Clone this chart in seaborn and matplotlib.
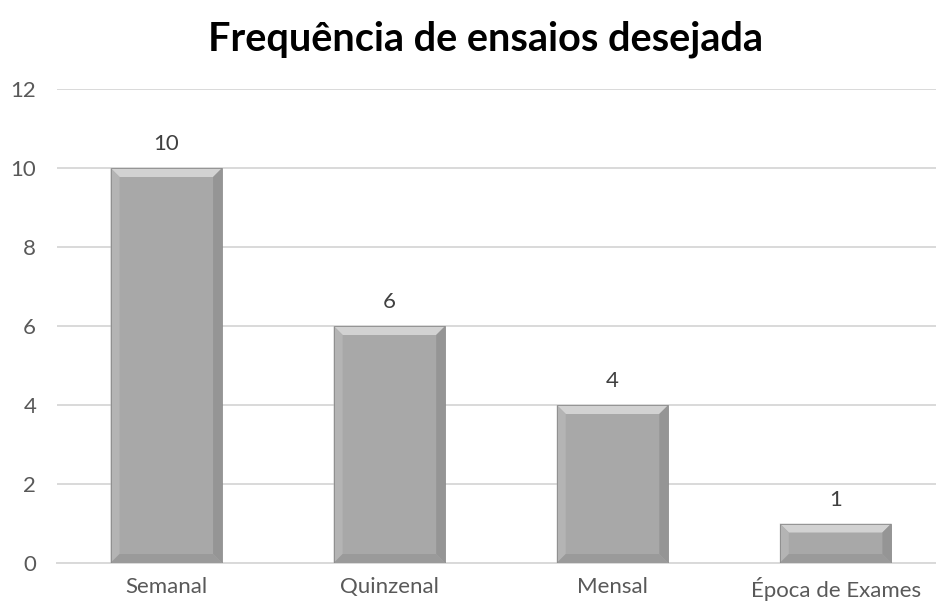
import matplotlib
matplotlib.use("Agg")
import matplotlib.pyplot as plt
from matplotlib.patches import Polygon
import seaborn as sns
import pandas as pd

categories = ["Semanal", "Quinzenal", "Mensal", "Época de Exames"]
values = [10, 6, 4, 1]
yticks = [0, 2, 4, 6, 8, 10, 12]
title = "Frequência de ensaios desejada"

sns.set_theme(style="white")
plt.rcParams['font.family'] = ['Lato', 'DejaVu Sans']

df = pd.DataFrame({"cat": categories, "val": values})

fig = plt.figure(figsize=(9.36, 6.03), dpi=100)
ax = fig.add_axes([57/936, 40/603, 879/936, 474/603])

sns.barplot(data=df, x="cat", y="val", color="#a8a8a8", width=0.5,
            saturation=1, ax=ax, zorder=3, edgecolor="none")

ax.set_ylim(0, 12)
ax.set_xlim(-0.49, 3.45)
ax.set_yticks(yticks)
ax.grid(axis="y", color="#d9d9d9", linewidth=1.4, zorder=0)
for s in ["top", "right", "left"]:
    ax.spines[s].set_visible(False)
ax.spines["bottom"].set_color("#d9d9d9")
ax.spines["bottom"].set_linewidth(1.4)
ax.spines["bottom"].set_zorder(1)
ax.tick_params(axis="both", length=0, labelsize=16, labelcolor="#595959")
ax.tick_params(axis="y", pad=15)
ax.tick_params(axis="x", pad=10)
ax.set_xlabel("")
ax.set_ylabel("")

# bevel effect derived from bar patches
inv = ax.transData.inverted()
bev_px = 9
for p, v in zip(ax.patches, values):
    x0, y0 = p.get_x(), p.get_y()
    w, h = p.get_width(), p.get_height()
    x1, y1 = x0 + w, y0 + h
    (dx0, dy0) = inv.transform((0, 0))
    (dx1, dy1) = inv.transform((bev_px, bev_px))
    bx, by = dx1 - dx0, dy1 - dy0
    by = min(by, h / 2)
    bx2 = min(bx, w / 2)
    ix0, ix1, iy0, iy1 = x0 + bx2, x1 - bx2, y0 + by, y1 - by
    faces = [
        ([(x0, y1), (x1, y1), (ix1, iy1), (ix0, iy1)], "#d2d2d2"),  # top
        ([(x0, y0), (x0, y1), (ix0, iy1), (ix0, iy0)], "#b4b4b4"),  # left
        ([(x1, y0), (x1, y1), (ix1, iy1), (ix1, iy0)], "#959595"),  # right
        ([(x0, y0), (x1, y0), (ix1, iy0), (ix0, iy0)], "#9a9a9a"),  # bottom
    ]
    for pts, c in faces:
        ax.add_patch(Polygon(pts, closed=True, facecolor=c, edgecolor="none", zorder=4))
    ax.add_patch(Polygon([(x0, y0), (x1, y0), (x1, y1), (x0, y1)], closed=True,
                         facecolor="none", edgecolor="#8a8a8a", linewidth=0.6, zorder=5))
    ax.annotate(f"{v}", (x0 + w / 2, y1), xytext=(0, 10), textcoords="offset points",
                ha="center", va="bottom", fontsize=16, color="#404040")

fig.text(485/936, 1 - 39/603, title, ha="center", va="center",
         fontsize=28.5, fontweight="bold", color="#000000")

fig.savefig("out.png", dpi=100)
